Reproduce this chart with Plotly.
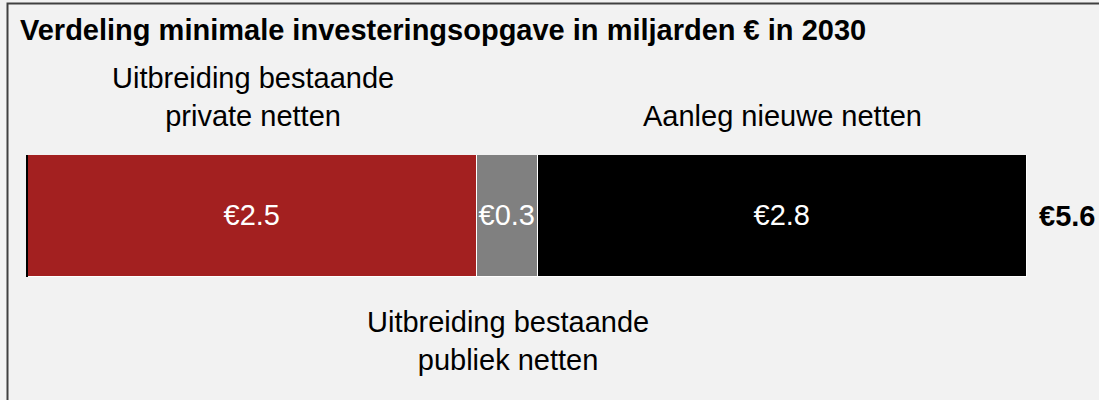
import plotly.graph_objects as go

# ---- data ----
segments = ["Uitbreiding bestaande private netten",
            "Uitbreiding bestaande publiek netten",
            "Aanleg nieuwe netten"]
values = [2.51, 0.34, 2.73]
value_labels = ["€2.5", "€0.3", "€2.8"]
colors = ["#a32020", "#808080", "#000000"]
title_text = "Verdeling minimale investeringsopgave in miljarden € in 2030"
top_labels = ["Uitbreiding bestaande<br>private netten", None, "Aanleg nieuwe netten"]
bottom_labels = [None, "Uitbreiding bestaande<br>publiek netten", None]

FONT = "Liberation Sans, Arial, sans-serif"
BG = "#f2f2f2"
total = sum(values)

fig = go.Figure()
for name, v, lab, c in zip(segments, values, value_labels, colors):
    fig.add_trace(go.Bar(
        y=[""], x=[v], orientation="h", name=name,
        marker=dict(color=c, line=dict(color="white", width=1.5)),
        text=[lab], textposition="inside", insidetextanchor="middle", textangle=0,
        textfont=dict(color="white", size=29, family=FONT),
        hoverinfo="skip", showlegend=False,
    ))

annotations = []
cum = 0.0
for v, tl, bl in zip(values, top_labels, bottom_labels):
    mid = cum + v / 2
    if tl:
        annotations.append(dict(x=mid, xref="x", y=1.17, yref="paper",
                                text=tl, showarrow=False, xanchor="center",
                                yanchor="bottom", font=dict(size=29, color="#000000", family=FONT)))
    if bl:
        annotations.append(dict(x=mid, xref="x", y=-0.225, yref="paper",
                                text=bl, showarrow=False, xanchor="center",
                                yanchor="top", font=dict(size=29, color="#000000", family=FONT)))
    cum += v

annotations.append(dict(x=total, xref="x", y=0, yref="y", text=f"<b>€{total:.1f}</b>",
                        showarrow=False, xanchor="left", yanchor="middle", xshift=10,
                        font=dict(size=29, color="#000000", family=FONT)))

fig.update_layout(
    width=1099, height=400, autosize=False,
    margin=dict(l=28, r=72, t=155, b=123, pad=0),
    paper_bgcolor=BG, plot_bgcolor=BG,
    barmode="stack", bargap=0,
    font=dict(family=FONT, size=29, color="#000000"),
    title=dict(text=f"<b>{title_text}</b>", x=20 / 1099, xref="container", xanchor="left",
               y=1 - 30 / 400, yref="container", yanchor="middle",
               font=dict(size=29, color="#000000", family=FONT)),
    xaxis=dict(range=[0, total], visible=False, fixedrange=True),
    yaxis=dict(range=[-0.5, 0.5], showline=True, linecolor="#000000", linewidth=1.5,
               showgrid=False, zeroline=False, showticklabels=False, ticks="", fixedrange=True),
    uniformtext=dict(minsize=29, mode="show"),
    annotations=annotations,
    shapes=[dict(type="rect", xref="paper", yref="paper",
                 x0=(7.5 - 28) / 999, x1=(1120 - 28) / 999,
                 y0=(277 - 420) / 122, y1=(277 - 3.5) / 122,
                 line=dict(color="#404040", width=2), fillcolor="rgba(0,0,0,0)", layer="below")],
)

fig.write_html("out.html", config={"displayModeBar": False},
               post_script="document.body.style.margin='0';document.body.style.overflow='hidden';")
